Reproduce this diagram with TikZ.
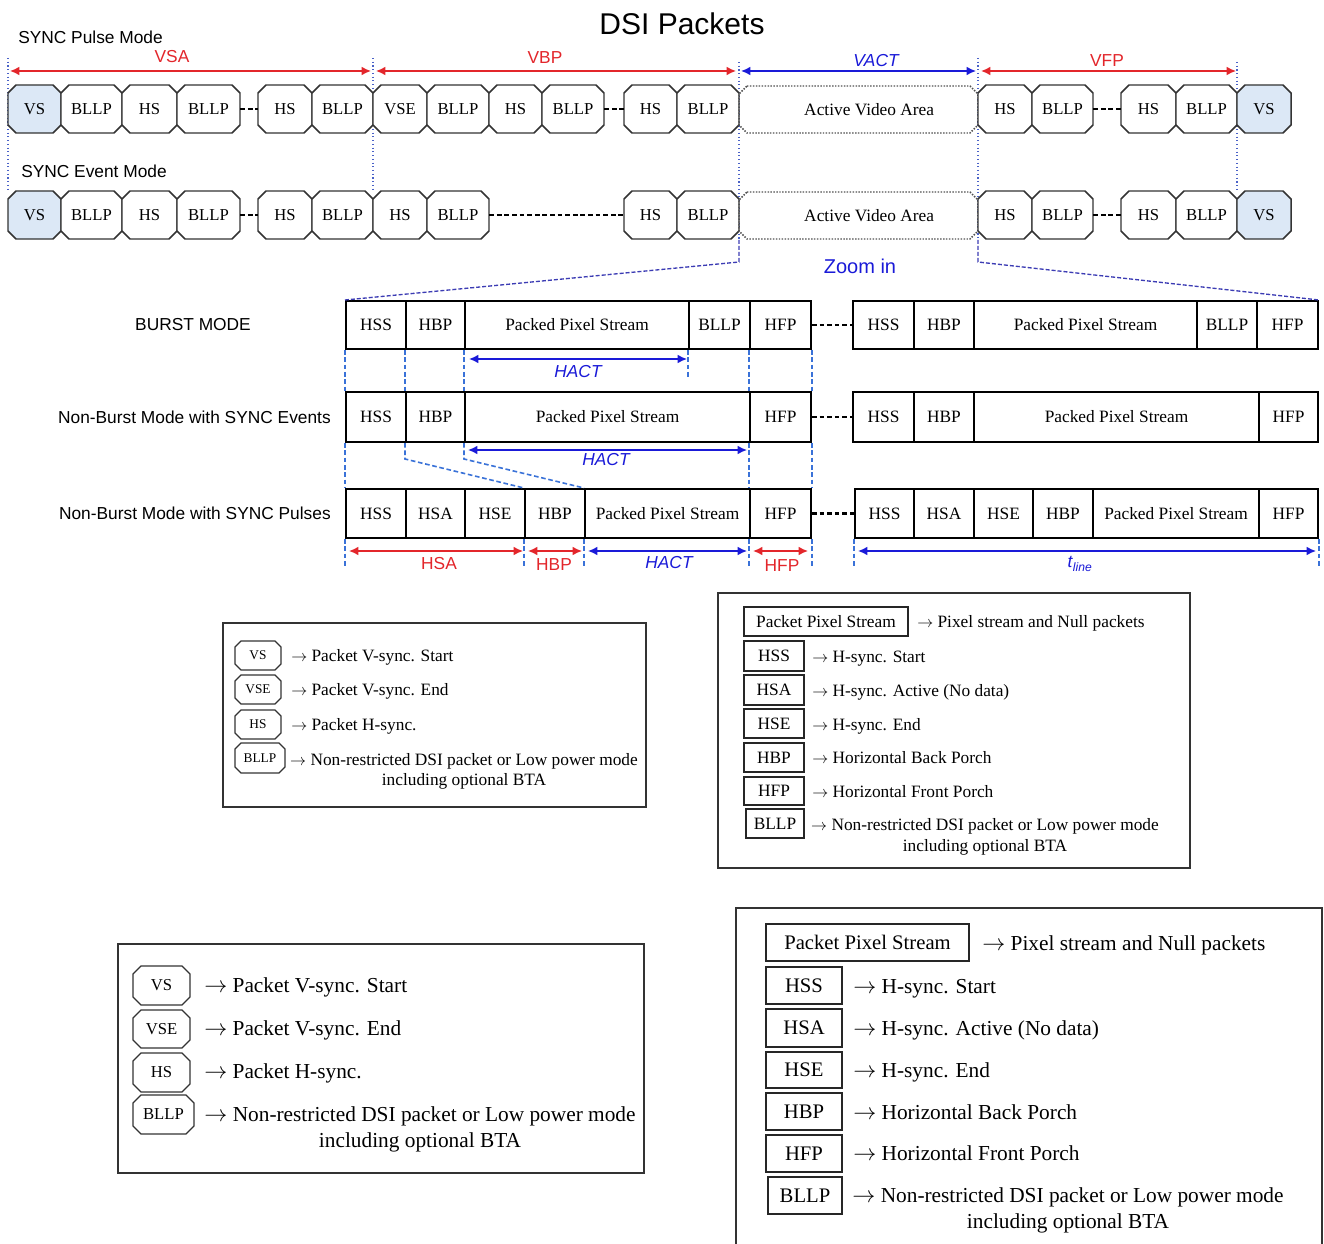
\documentclass[tikz,border=0pt]{standalone}
\usepackage{fontspec}
\setmainfont{Liberation Serif}
\setsansfont{Liberation Sans}
\usetikzlibrary{arrows.meta}
\definecolor{vred}{HTML}{E3262B}
\definecolor{vblue}{HTML}{1A1AD8}
\definecolor{dblue}{HTML}{3A72D8}
\definecolor{gblue}{HTML}{4A62C8}
\definecolor{zblue}{HTML}{3C3CB4}
\definecolor{vsfill}{HTML}{DCE8F6}
\definecolor{pkline}{HTML}{333333}
\newcommand\rar{$\rightarrow$}
\def\chm{8}
\newcommand\mkbox[7]{\node[#1,minimum width={(#4-#3)*0.75pt},minimum height={(#6-#5)*0.75pt}] (#2) at ({(#3+#4)/2},{(#5+#6)/2}) {#7};}
\newcommand\chbox[8]{%
 \draw[#1] ({#4+\chm},#6) -- ({#5-\chm},#6) -- (#5,{#6+\chm}) -- (#5,{#7-\chm}) -- ({#5-\chm},#7) -- ({#4+\chm},#7) -- (#4,{#7-\chm}) -- (#4,{#6+\chm}) -- cycle;
 \node[#2, inner sep=0pt, minimum width={(#5-#4)*0.75pt}, minimum height={(#7-#6)*0.75pt}] (#3) at ({(#4+#5)/2},{(#6+#7)/2}) {#8};}
\tikzset{
 pkd/.style={draw=pkline, line width=1.1pt, fill=white},
 pkv/.style={pkd, fill=vsfill},
 pka/.style={draw=pkline!85, line width=1.1pt, dash pattern=on 1.1pt off 1.1pt},
 topt/.style={font=\fontsize{12.5pt}{14pt}\selectfont},
 avat/.style={font=\fontsize{13pt}{15pt}\selectfont, xshift=8pt},
 lgs/.style={font=\fontsize{10pt}{12pt}\selectfont},
 lgL/.style={font=\fontsize{12.5pt}{14pt}\selectfont},
 lgd/.style={draw=pkline, line width=0.9pt, fill=white},
 mrect/.style={draw=black, line width=1.5pt, fill=white, inner sep=0pt, font=\fontsize{13pt}{15pt}\selectfont},
 frame/.style={draw=black!80, line width=1pt, inner sep=0pt},
 lrect/.style={draw=black!85, line width=1.1pt, inner sep=0pt, font=\fontsize{13pt}{15pt}\selectfont},
 lrectL/.style={draw=black!85, line width=1.2pt, inner sep=0pt, font=\fontsize{15.5pt}{18pt}\selectfont},
 ltext/.style={font=\fontsize{13pt}{15pt}\selectfont, inner sep=0pt, anchor=base west},
 ltextc/.style={font=\fontsize{13pt}{15pt}\selectfont, inner sep=0pt, anchor=base},
 Ltext/.style={font=\fontsize{16pt}{19pt}\selectfont, inner sep=0pt, anchor=base west},
 Ltextc/.style={font=\fontsize{16pt}{19pt}\selectfont, inner sep=0pt, anchor=base},
 sans/.style={font=\sffamily\fontsize{13pt}{15pt}\selectfont, inner sep=0pt},
 dotsep/.style={draw=black, line width=1.6pt, dash pattern=on 3.5pt off 2.2pt},
 dimarrow/.style={line width=1.1pt, {Latex[length=7pt,width=6.5pt]}-{Latex[length=7pt,width=6.5pt]}},
 vline/.style={draw=gblue, line width=0.8pt, dotted},
 mline/.style={draw=dblue, line width=1.2pt, dash pattern=on 3.5pt off 2pt},
 zline/.style={draw=zblue, line width=1pt, dash pattern=on 3pt off 1.5pt},
}
\begin{document}
\begin{tikzpicture}[x=0.75pt,y=-0.75pt]
\useasboundingbox[fill=white] (0,0) rectangle (1324,1244);

% titles
\node[font=\sffamily\fontsize{22.5pt}{26pt}\selectfont, inner sep=0pt] (title) at (682,24) {DSI Packets};
\node[sans, anchor=west] (lpulse) at (18,37) {SYNC Pulse Mode};
\node[sans, anchor=west] (levent) at (21,171) {SYNC Event Mode};

% guides top
\coordinate (g1t) at (8,58);    \coordinate (g1b) at (8,191);
\coordinate (g2t) at (373,58);  \coordinate (g2b) at (373,191);
\coordinate (g3t) at (739,62);  \coordinate (g3b) at (739,240);
\coordinate (g4t) at (978,58);  \coordinate (g4b) at (978,240);
\coordinate (g5t) at (1237,62); \coordinate (g5b) at (1237,191);
\draw[vline] (g1t) -- (g1b);
\draw[vline] (g2t) -- (g2b);
\draw[vline] (g3t) -- (g3b);
\draw[vline] (g4t) -- (g4b);
\draw[vline] (g5t) -- (g5b);

% row 1
\chbox{pkv}{topt}{r1n1}{8}{61}{85}{133}{VS}
\chbox{pkd}{topt}{r1n2}{61}{122}{85}{133}{BLLP}
\chbox{pkd}{topt}{r1n3}{122}{177}{85}{133}{HS}
\chbox{pkd}{topt}{r1n4}{177}{240}{85}{133}{BLLP}
\chbox{pkd}{topt}{r1n5}{258}{312}{85}{133}{HS}
\chbox{pkd}{topt}{r1n6}{312}{373}{85}{133}{BLLP}
\chbox{pkd}{topt}{r1n7}{373}{427}{85}{133}{VSE}
\chbox{pkd}{topt}{r1n8}{427}{489}{85}{133}{BLLP}
\chbox{pkd}{topt}{r1n9}{489}{542}{85}{133}{HS}
\chbox{pkd}{topt}{r1n10}{542}{604}{85}{133}{BLLP}
\chbox{pkd}{topt}{r1n11}{624}{677}{85}{133}{HS}
\chbox{pkd}{topt}{r1n12}{677}{739}{85}{133}{BLLP}
\chbox{pka}{avat}{r1ava}{739}{978}{86}{133}{Active Video Area}
\chbox{pkd}{topt}{r1n13}{978}{1032}{85}{133}{HS}
\chbox{pkd}{topt}{r1n14}{1032}{1093}{85}{133}{BLLP}
\chbox{pkd}{topt}{r1n15}{1121}{1176}{85}{133}{HS}
\chbox{pkd}{topt}{r1n16}{1176}{1237}{85}{133}{BLLP}
\chbox{pkv}{topt}{r1n17}{1237}{1291}{85}{133}{VS}
\draw[dotsep] (r1n4.east) -- (r1n5.west);
\draw[dotsep] (r1n10.east) -- (r1n11.west);
\draw[dotsep] (r1n14.east) -- (r1n15.west);

% row 2
\chbox{pkv}{topt}{r2n1}{8}{61}{191}{239}{VS}
\chbox{pkd}{topt}{r2n2}{61}{122}{191}{239}{BLLP}
\chbox{pkd}{topt}{r2n3}{122}{177}{191}{239}{HS}
\chbox{pkd}{topt}{r2n4}{177}{240}{191}{239}{BLLP}
\chbox{pkd}{topt}{r2n5}{258}{312}{191}{239}{HS}
\chbox{pkd}{topt}{r2n6}{312}{373}{191}{239}{BLLP}
\chbox{pkd}{topt}{r2n7}{373}{427}{191}{239}{HS}
\chbox{pkd}{topt}{r2n8}{427}{489}{191}{239}{BLLP}
\chbox{pkd}{topt}{r2n9}{624}{677}{191}{239}{HS}
\chbox{pkd}{topt}{r2n10}{677}{739}{191}{239}{BLLP}
\chbox{pka}{avat}{r2ava}{739}{978}{192}{239}{Active Video Area}
\chbox{pkd}{topt}{r2n11}{978}{1032}{191}{239}{HS}
\chbox{pkd}{topt}{r2n12}{1032}{1093}{191}{239}{BLLP}
\chbox{pkd}{topt}{r2n13}{1121}{1176}{191}{239}{HS}
\chbox{pkd}{topt}{r2n14}{1176}{1237}{191}{239}{BLLP}
\chbox{pkv}{topt}{r2n15}{1237}{1291}{191}{239}{VS}
\draw[dotsep] (r2n4.east) -- (r2n5.west);
\draw[dotsep] (r2n8.east) -- (r2n9.west);
\draw[dotsep] (r2n12.east) -- (r2n13.west);

% top dimensions
\coordinate (vsaL) at (10,71);  \coordinate (vsaR) at (371,71);
\coordinate (vbpL) at (376,71); \coordinate (vbpR) at (736,71);
\coordinate (vacL) at (741,71); \coordinate (vacR) at (976,71);
\coordinate (vfpL) at (981,71); \coordinate (vfpR) at (1236,71);
\draw[dimarrow, vred] (vsaL) -- (vsaR);
\draw[dimarrow, vred] (vbpL) -- (vbpR);
\draw[dimarrow, vblue] (vacL) -- (vacR);
\draw[dimarrow, vred] (vfpL) -- (vfpR);
\node[sans, text=vred] (tvsa) at (172,57) {VSA};
\node[sans, text=vred] (tvbp) at (545,58) {VBP};
\node[sans, text=vblue, font=\sffamily\itshape\fontsize{13pt}{15pt}\selectfont] (tvact) at (876,61) {VACT};
\node[sans, text=vred] (tvfp) at (1107,61) {VFP};

% middle rows
\mkbox{mrect}{bA}{346}{406}{301}{349}{HSS}
\mkbox{mrect}{bB}{406}{465}{301}{349}{HBP}
\mkbox{mrect}{bC}{465}{689}{301}{349}{Packed Pixel Stream}
\mkbox{mrect}{bD}{689}{750}{301}{349}{BLLP}
\mkbox{mrect}{bE}{750}{811}{301}{349}{HFP}
\mkbox{mrect}{bF}{853}{914}{301}{349}{HSS}
\mkbox{mrect}{bG}{914}{974}{301}{349}{HBP}
\mkbox{mrect}{bH}{974}{1197}{301}{349}{Packed Pixel Stream}
\mkbox{mrect}{bI}{1197}{1257}{301}{349}{BLLP}
\mkbox{mrect}{bJ}{1257}{1318}{301}{349}{HFP}

\mkbox{mrect}{eA}{346}{406}{392}{442}{HSS}
\mkbox{mrect}{eB}{406}{465}{392}{442}{HBP}
\mkbox{mrect}{eC}{465}{750}{392}{442}{Packed Pixel Stream}
\mkbox{mrect}{eD}{750}{811}{392}{442}{HFP}
\mkbox{mrect}{eE}{853}{914}{392}{442}{HSS}
\mkbox{mrect}{eF}{914}{974}{392}{442}{HBP}
\mkbox{mrect}{eG}{974}{1259}{392}{442}{Packed Pixel Stream}
\mkbox{mrect}{eH}{1259}{1318}{392}{442}{HFP}

\mkbox{mrect}{pA}{346}{406}{489}{538}{HSS}
\mkbox{mrect}{pB}{406}{465}{489}{538}{HSA}
\mkbox{mrect}{pC}{465}{525}{489}{538}{HSE}
\mkbox{mrect}{pD}{525}{585}{489}{538}{HBP}
\mkbox{mrect}{pE}{585}{750}{489}{538}{Packed Pixel Stream}
\mkbox{mrect}{pF}{750}{811}{489}{538}{HFP}
\mkbox{mrect}{pG}{855}{914}{489}{538}{HSS}
\mkbox{mrect}{pH}{914}{974}{489}{538}{HSA}
\mkbox{mrect}{pI}{974}{1033}{489}{538}{HSE}
\mkbox{mrect}{pJ}{1033}{1093}{489}{538}{HBP}
\mkbox{mrect}{pK}{1093}{1259}{489}{538}{Packed Pixel Stream}
\mkbox{mrect}{pL}{1259}{1318}{489}{538}{HFP}

\draw[dotsep] (bE.east) -- (bF.west);
\draw[dotsep] (eD.east) -- (eE.west);
\draw[dotsep] (pF.east) -- (pG.west);

\node[sans] (lburst) at (193,325) {BURST MODE};
\node[sans, anchor=east] (lnbe) at (331,417) {Non-Burst Mode with SYNC Events};
\node[sans, anchor=east] (lnbp) at (331,513) {Non-Burst Mode with SYNC Pulses};

% zoom lines
\draw[zline] (g3b) -- ++(0,22) -- (bA.north west);
\draw[zline] (g4b) -- ++(0,22) -- (bJ.north east);
\node[font=\sffamily\fontsize{15pt}{17pt}\selectfont, text=vblue, inner sep=0pt] (tzoom) at (860,266) {Zoom in};

% middle dashed guides
\draw[mline] (bA.south west) -- (eA.north west);
\draw[mline] (eA.south west) -- (pA.north west);
\draw[mline] (pA.south west) -- ++(0,27);
\draw[mline] (bB.south west) -- (eB.north west);
\draw[mline] (eB.south west) -- ++(0,16) -- (pD.north west);
\draw[mline] (bC.south west) -- (eC.north west);
\draw[mline] (eC.south west) -- ++(0,16) -- (pE.north west);
\draw[mline] (bD.south west) -- ++(0,27);
\draw[mline] (bE.south west) -- (eD.north west);
\draw[mline] (eD.south west) -- (pF.north west);
\draw[mline] (pF.south west) -- ++(0,27);
\draw[mline] (bE.south east) -- (eD.north east);
\draw[mline] (eD.south east) -- (pF.north east);
\draw[mline] (pF.south east) -- ++(0,27);
\draw[mline] (pD.south west) -- ++(0,27);
\draw[mline] (pE.south west) -- ++(0,27);
\draw[mline] (pG.south west) -- ++(0,27);
\draw[mline] (pL.south east) -- ++(0,27);

% middle dimensions
\coordinate (h1L) at (469,359); \coordinate (h1R) at (687,359);
\coordinate (h2L) at (468,450); \coordinate (h2R) at (747,450);
\coordinate (hsaL) at (349,551); \coordinate (hsaR) at (523,551);
\coordinate (hbpL) at (528,551); \coordinate (hbpR) at (582,551);
\coordinate (h3L) at (588,551); \coordinate (h3R) at (747,551);
\coordinate (hfpL) at (753,551); \coordinate (hfpR) at (808,551);
\coordinate (tlL) at (858,551); \coordinate (tlR) at (1316,551);
\draw[dimarrow, vblue] (h1L) -- (h1R);
\draw[dimarrow, vblue] (h2L) -- (h2R);
\draw[dimarrow, vred] (hsaL) -- (hsaR);
\draw[dimarrow, vred] (hbpL) -- (hbpR);
\draw[dimarrow, vblue] (h3L) -- (h3R);
\draw[dimarrow, vred] (hfpL) -- (hfpR);
\draw[dimarrow, vblue] (tlL) -- (tlR);
\node[font=\sffamily\itshape\fontsize{13pt}{15pt}\selectfont, text=vblue, inner sep=0pt] (th1) at (578,372) {HACT};
\node[font=\sffamily\itshape\fontsize{13pt}{15pt}\selectfont, text=vblue, inner sep=0pt] (th2) at (606,460) {HACT};
\node[font=\sffamily\itshape\fontsize{13pt}{15pt}\selectfont, text=vblue, inner sep=0pt] (th3) at (669,563) {HACT};
\node[sans, text=vred] (thsa) at (439,564) {HSA};
\node[sans, text=vred] (thbp) at (554,565) {HBP};
\node[sans, text=vred] (thfp) at (782,566) {HFP};
\node[font=\sffamily\fontsize{13pt}{15pt}\selectfont, text=vblue, inner sep=0pt] (ttl) at (1080,564) {\textit{t}\textsubscript{\textit{line}}};

% legend 1
\mkbox{frame}{leg1}{223}{646}{623}{807}{}
\def\chm{6}
\chbox{lgd}{lgs}{l1a}{235}{281}{641}{670}{VS}
\chbox{lgd}{lgs}{l1b}{235}{281}{675}{704}{VSE}
\chbox{lgd}{lgs}{l1c}{235}{281}{710}{739}{HS}
\chbox{lgd}{lgs}{l1d}{235}{285}{743}{773}{BLLP}
\node[ltext] (l1ta) at (291,661) {\rar{} Packet V-sync. Start};
\node[ltext] (l1tb) at (291,695) {\rar{} Packet V-sync. End};
\node[ltext] (l1tc) at (291,730) {\rar{} Packet H-sync.};
\node[ltextc] (l1td) at (464,765) {\rar{} Non-restricted DSI packet or Low power mode};
\node[ltextc] (l1te) at (464,785) {including optional BTA};

% legend 2
\mkbox{frame}{leg2}{718}{1190}{593}{868}{}
\mkbox{lrect}{l2a}{744}{908}{607}{636}{Packet Pixel Stream}
\mkbox{lrect}{l2b}{744}{804}{641}{671}{HSS}
\mkbox{lrect}{l2c}{744}{804}{675}{705}{HSA}
\mkbox{lrect}{l2d}{744}{804}{709}{738}{HSE}
\mkbox{lrect}{l2e}{744}{804}{743}{772}{HBP}
\mkbox{lrect}{l2f}{744}{804}{777}{805}{HFP}
\mkbox{lrect}{l2g}{746}{804}{809}{838}{BLLP}
\node[ltext] (l2ta) at (917,627) {\rar{} Pixel stream and Null packets};
\node[ltext] (l2tb) at (812,662) {\rar{} H-sync. Start};
\node[ltext] (l2tc) at (812,696) {\rar{} H-sync. Active (No data)};
\node[ltext] (l2td) at (812,730) {\rar{} H-sync. End};
\node[ltext] (l2te) at (812,763) {\rar{} Horizontal Back Porch};
\node[ltext] (l2tf) at (812,797) {\rar{} Horizontal Front Porch};
\node[ltextc] (l2tg) at (985,830) {\rar{} Non-restricted DSI packet or Low power mode};
\node[ltextc] (l2th) at (985,851) {including optional BTA};

% legend 3
\mkbox{frame}{leg3}{118}{644}{944}{1173}{}
\def\chm{8}
\chbox{lgd}{lgL}{l3a}{133}{190}{966}{1005}{VS}
\chbox{lgd}{lgL}{l3b}{133}{190}{1010}{1048}{VSE}
\chbox{lgd}{lgL}{l3c}{133}{190}{1053}{1092}{HS}
\chbox{lgd}{lgL}{l3d}{133}{194}{1095}{1134}{BLLP}
\node[Ltext] (l3ta) at (204,992) {\rar{} Packet V-sync. Start};
\node[Ltext] (l3tb) at (204,1035) {\rar{} Packet V-sync. End};
\node[Ltext] (l3tc) at (204,1078) {\rar{} Packet H-sync.};
\node[Ltextc] (l3td) at (420,1121) {\rar{} Non-restricted DSI packet or Low power mode};
\node[Ltextc] (l3te) at (420,1147) {including optional BTA};

% legend 4
\mkbox{frame}{leg4}{736}{1322}{908}{1260}{}
\mkbox{lrectL}{l4a}{766}{969}{924}{961}{Packet Pixel Stream}
\mkbox{lrectL}{l4b}{766}{842}{967}{1004}{HSS}
\mkbox{lrectL}{l4c}{766}{842}{1009}{1047}{HSA}
\mkbox{lrectL}{l4d}{766}{842}{1052}{1088}{HSE}
\mkbox{lrectL}{l4e}{766}{842}{1093}{1130}{HBP}
\mkbox{lrectL}{l4f}{766}{842}{1135}{1172}{HFP}
\mkbox{lrectL}{l4g}{768}{842}{1177}{1214}{BLLP}
\node[Ltext] (l4ta) at (982,950) {\rar{} Pixel stream and Null packets};
\node[Ltext] (l4tb) at (853,993) {\rar{} H-sync. Start};
\node[Ltext] (l4tc) at (853,1035) {\rar{} H-sync. Active (No data)};
\node[Ltext] (l4td) at (853,1077) {\rar{} H-sync. End};
\node[Ltext] (l4te) at (853,1119) {\rar{} Horizontal Back Porch};
\node[Ltext] (l4tf) at (853,1160) {\rar{} Horizontal Front Porch};
\node[Ltextc] (l4tg) at (1068,1202) {\rar{} Non-restricted DSI packet or Low power mode};
\node[Ltextc] (l4th) at (1068,1228) {including optional BTA};
\end{tikzpicture}
\end{document}
